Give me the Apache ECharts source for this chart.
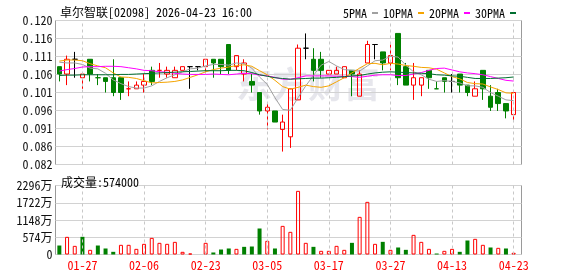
<!DOCTYPE html>
<html><head><meta charset="utf-8">
<script src="https://cdn.jsdelivr.net/npm/echarts@6/dist/echarts.min.js"></script>
<style>html,body{margin:0;padding:0;background:#fff}#c{width:578px;height:276px}</style>
</head><body><div id="c"></div>
<script>
const dates = ['01-22','01-23','01-26','01-27','01-28','01-29','01-30',
 '02-02','02-03','02-04','02-05','02-06','02-09','02-10','02-11','02-12','02-13',
 '02-16','02-20','02-23','02-24','02-25','02-26','02-27',
 '03-02','03-03','03-04','03-05','03-06','03-09','03-10','03-11','03-12','03-13',
 '03-16','03-17','03-18','03-19','03-20','03-23','03-24','03-25','03-26','03-27',
 '03-30','03-31','04-01','04-02','04-08','04-09','04-10',
 '04-13','04-14','04-15','04-16','04-17','04-20','04-21','04-22','04-23'];
const openP = [0.108,0.106,0.110,0.105,0.110,0.105,0.105,0.105,0.105,0.102,
 0.102,0.103,0.107,0.107,0.106,0.105,0.107,0.108,0.108,0.108,
 0.110,0.110,0.114,0.108,0.106,0.104,0.101,0.096,0.096,0.091,
 0.089,0.099,0.113,0.110,0.110,0.106,0.106,0.105,0.107,0.100,
 0.109,0.114,0.112,0.109,0.117,0.108,0.103,0.103,0.107,0.102,
 0.105,0.104,0.106,0.103,0.100,0.107,0.100,0.101,0.098,0.095];
const closeP = [0.106,0.110,0.110,0.106,0.106,0.105,0.104,0.101,0.101,0.102,
 0.103,0.104,0.104,0.107,0.107,0.107,0.108,0.108,0.108,0.110,
 0.109,0.108,0.107,0.111,0.109,0.103,0.096,0.097,0.093,0.093,
 0.102,0.113,0.113,0.107,0.107,0.107,0.107,0.108,0.106,0.106,
 0.114,0.114,0.109,0.111,0.105,0.103,0.105,0.105,0.105,0.102,
 0.104,0.104,0.103,0.101,0.102,0.102,0.097,0.098,0.096,0.101];
const highP = [0.108,0.111,0.112,0.106,0.110,0.106,0.105,0.110,0.105,0.104,
 0.104,0.106,0.108,0.109,0.108,0.108,0.108,0.108,0.108,0.110,
 0.110,0.110,0.114,0.111,0.110,0.106,0.101,0.098,0.096,0.095,
 0.102,0.114,0.117,0.113,0.112,0.107,0.108,0.108,0.107,0.107,
 0.115,0.114,0.112,0.114,0.117,0.109,0.109,0.105,0.107,0.104,
 0.105,0.106,0.106,0.103,0.104,0.107,0.103,0.102,0.098,0.101];
const lowP = [0.104,0.103,0.105,0.102,0.104,0.103,0.101,0.100,0.099,0.100,
 0.102,0.101,0.103,0.105,0.105,0.105,0.107,0.102,0.107,0.106,
 0.105,0.106,0.106,0.107,0.104,0.101,0.095,0.091,0.093,0.085,
 0.086,0.099,0.110,0.104,0.105,0.106,0.106,0.105,0.100,0.100,
 0.109,0.110,0.107,0.107,0.103,0.103,0.099,0.100,0.102,0.102,
 0.101,0.101,0.101,0.100,0.100,0.099,0.096,0.096,0.094,0.093];
// volume in 万股
const volume = [299,588,288,588,155,299,200,89,322,322,
 188,355,554,388,355,421,89,33,0,388,
 67,166,200,188,255,266,865,455,200,953,
 754,2118,388,255,122,122,288,155,388,1253,
 1752,355,421,155,233,155,654,421,188,33,
 122,188,89,466,521,322,233,222,200,57.4];
const ma5 = [0.1092,0.1090,0.1090,0.1086,0.1076,0.1074,0.1062,0.1044,0.1034,0.1026,
 0.1022,0.1022,0.1028,0.1040,0.1050,0.1058,0.1066,0.1074,0.1076,0.1082,
 0.1086,0.1086,0.1084,0.1090,0.1088,0.1076,0.1052,0.1032,0.0996,0.0964,
 0.0962,0.0996,0.1028,0.1056,0.1084,0.1094,0.1082,0.1072,0.1070,0.1068,
 0.1082,0.1096,0.1098,0.1108,0.1106,0.1084,0.1066,0.1058,0.1046,0.1040,
 0.1042,0.1040,0.1036,0.1028,0.1028,0.1024,0.1010,0.1000,0.0990,0.0988];
const ma10 = [0.1095,0.1098,0.1098,0.1096,0.1088,0.1082,0.1077,0.1063,0.1052,0.1051,
 0.1048,0.1042,0.1036,0.1037,0.1038,0.1040,0.1044,0.1051,0.1058,0.1066,
 0.1072,0.1076,0.1079,0.1083,0.1085,0.1081,0.1069,0.1058,0.1043,0.1026,
 0.1019,0.1024,0.1030,0.1026,0.1024,0.1028,0.1039,0.1050,0.1063,0.1076,
 0.1088,0.1089,0.1085,0.1089,0.1087,0.1083,0.1081,0.1078,0.1077,0.1073,
 0.1063,0.1053,0.1047,0.1037,0.1034,0.1033,0.1025,0.1018,0.1009,0.1008];
const ma20 = [0.1068,0.1072,0.1075,0.1079,0.1080,0.1080,0.1081,0.1081,0.1080,0.1077,
 0.1074,0.1070,0.1069,0.1066,0.1065,0.1062,0.1060,0.1059,0.1059,0.1059,
 0.1060,0.1059,0.1058,0.1060,0.1062,0.1061,0.1057,0.1055,0.1051,0.1046,
 0.1046,0.1050,0.1055,0.1055,0.1055,0.1055,0.1054,0.1054,0.1053,0.1051,
 0.1054,0.1057,0.1058,0.1058,0.1056,0.1056,0.1060,0.1064,0.1070,0.1075,
 0.1076,0.1071,0.1066,0.1063,0.1061,0.1058,0.1053,0.1048,0.1043,0.1041];
const ma30 = [0.1056,0.1057,0.1057,0.1058,0.1058,0.1058,0.1058,0.1058,0.1059,0.1059,
 0.1060,0.1061,0.1062,0.1063,0.1064,0.1065,0.1066,0.1067,0.1068,0.1069,
 0.1069,0.1069,0.1070,0.1070,0.1069,0.1064,0.1058,0.1054,0.1050,0.1048,
 0.1046,0.1047,0.1048,0.1049,0.1049,0.1050,0.1051,0.1053,0.1055,0.1056,
 0.1060,0.1063,0.1065,0.1066,0.1065,0.1064,0.1063,0.1062,0.1061,0.1058,
 0.1057,0.1055,0.1054,0.1051,0.1048,0.1048,0.1048,0.1049,0.1050,0.1052];
const priceTickLabels = ['0.082','0.086','0.091','0.096','0.101','0.106','0.111','0.116','0.120'];
const volumeTickLabels = ['0','574万','1148万','1722万','2296万'];
const xTickLabels = ['01-27','02-06','02-23','03-05','03-17','03-27','04-13','04-23'];
const titleText = '卓尔智联[02098] 2026-04-23 16:00';
const volumeTitle = '成交量';
const maNames = ['5PMA','10PMA','20PMA','30PMA'];

const PMIN = 0.0815, PMAX = 0.1205, PINT = 0.004875;
const VMAX = 2296, VINT = 574;
const RED = '#ff0000', GREEN = '#008000', BLACK = '#000000';
const FONT = "'Noto Sans Mono CJK SC','Liberation Mono',monospace";
const maColors = ['#a0a0a0','#f5a400','#ff00ff','#006e30'];

function dirColor(i) {
  if (closeP[i] > openP[i]) return RED;
  if (closeP[i] < openP[i]) return GREEN;
  if (i === 0) return BLACK;
  return closeP[i] > closeP[i-1] ? RED : (closeP[i] < closeP[i-1] ? GREEN : BLACK);
}
const candleData = dates.map((d, i) => {
  const c = dirColor(i);
  const fill = c === GREEN ? GREEN : 'rgba(0,0,0,0)';
  return { value: [openP[i], closeP[i], lowP[i], highP[i]],
    itemStyle: { color: fill, color0: fill, borderColor: c, borderColor0: c, borderColorDoji: c, borderWidth: 1 } };
});
const volData = volume.map((v, i) => {
  const up = i === 0 ? closeP[i] >= openP[i] : closeP[i] >= closeP[i-1];
  return { value: v, itemStyle: up
    ? { color: 'rgba(0,0,0,0)', borderColor: RED, borderWidth: v > 0 ? 1 : 0 }
    : { color: GREEN, borderColor: GREEN, borderWidth: 0 } };
});
const xLabelIdx = xTickLabels.map(l => dates.indexOf(l));
const vLines = {
  silent: true, symbol: ['none','none'], label: { show: false },
  lineStyle: { color: '#c8c8c8', type: [3,3], width: 1 },
  emphasis: { disabled: true },
  data: xTickLabels.map(l => ({ xAxis: l }))
};

const chart = echarts.init(document.getElementById('c'), null, { renderer: 'canvas' });
chart.setOption({
  animation: false,
  backgroundColor: '#fff',
  title: [
    { text: titleText, left: 55, top: 1, textStyle: { fontFamily: FONT, fontSize: 12, fontWeight: 'normal', color: '#000' } },
    { text: volumeTitle + ':' + Math.round(volume[volume.length-1] * 10000), left: 56, top: 171,
      textStyle: { fontFamily: FONT, fontSize: 12, fontWeight: 'normal', color: '#000' } }
  ],
  legend: {
    left: 338, top: 2, align: 'right', itemGap: 5, itemWidth: 6, itemHeight: 2,
    textStyle: { fontFamily: FONT, fontSize: 12, color: '#000', padding: [0,0,0,0] },
    data: maNames.map((n, i) => ({ name: n, icon: 'rect', itemStyle: { color: maColors[i] } })),
    selectedMode: false
  },
  graphic: [{
    type: 'text', left: 236, top: 66, z: -10, silent: true,
    style: { text: '东方财富', fontSize: 36, fontWeight: 'bold', fontFamily: "'Noto Sans CJK SC'", fill: 'rgba(200,200,212,0.45)' }
  }],
  grid: [
    { left: 55.5, top: 20.5, width: 466, height: 144, show: true, borderColor: '#9a9a9a', borderWidth: 1, backgroundColor: 'transparent' },
    { left: 55.5, top: 20.5, width: 462, height: 144 },
    { left: 55.5, top: 185.5, width: 466, height: 69, show: true, borderColor: '#9a9a9a', borderWidth: 1, backgroundColor: 'transparent' },
    { left: 55.5, top: 185.5, width: 462, height: 69 }
  ],
  xAxis: [
    { type: 'value', gridIndex: 0, min: 0, max: 1, show: false },
    { type: 'category', gridIndex: 1, data: dates, show: false, boundaryGap: true },
    { type: 'value', gridIndex: 2, min: 0, max: 1, show: false },
    { type: 'category', gridIndex: 3, data: dates, boundaryGap: true,
      axisLine: { show: false }, axisTick: { show: false }, splitLine: { show: false },
      axisLabel: { interval: (idx) => xLabelIdx.indexOf(idx) >= 0, color: RED, fontFamily: FONT, fontSize: 12, margin: 5 } }
  ],
  yAxis: [
    { type: 'value', gridIndex: 0, min: PMIN, max: PMAX, interval: PINT,
      axisLine: { show: false }, axisTick: { show: false },
      splitLine: { show: true, lineStyle: { color: '#d2d2d2', width: 1 } },
      axisLabel: { margin: 3, color: '#111', fontFamily: FONT, fontSize: 12,
        formatter: v => priceTickLabels[Math.round((v - PMIN) / PINT)] || '' } },
    { type: 'value', gridIndex: 1, min: PMIN, max: PMAX, show: false, splitLine: { show: false } },
    { type: 'value', gridIndex: 2, min: 0, max: VMAX, interval: VINT,
      axisLine: { show: false }, axisTick: { show: false },
      splitLine: { show: true, lineStyle: { color: '#d2d2d2', width: 1 } },
      axisLabel: { margin: 3, color: '#111', fontFamily: FONT, fontSize: 12,
        formatter: v => volumeTickLabels[Math.round(v / VINT)] || '' } },
    { type: 'value', gridIndex: 3, min: 0, max: VMAX, show: false, splitLine: { show: false } }
  ],
  series: [
    { type: 'candlestick', xAxisIndex: 1, yAxisIndex: 1, data: candleData, barWidth: 5, z: 3, markLine: vLines },
    ...maNames.map((n, i) => ({
      name: n, type: 'line', xAxisIndex: 1, yAxisIndex: 1,
      data: [ma5, ma10, ma20, ma30][i], showSymbol: false, symbol: 'none', z: 5,
      color: maColors[i], lineStyle: { width: 1, color: maColors[i] }, emphasis: { disabled: true }
    })),
    { type: 'bar', xAxisIndex: 3, yAxisIndex: 3, data: volData, barWidth: 4, z: 3, markLine: vLines }
  ]
});
</script></body></html>
